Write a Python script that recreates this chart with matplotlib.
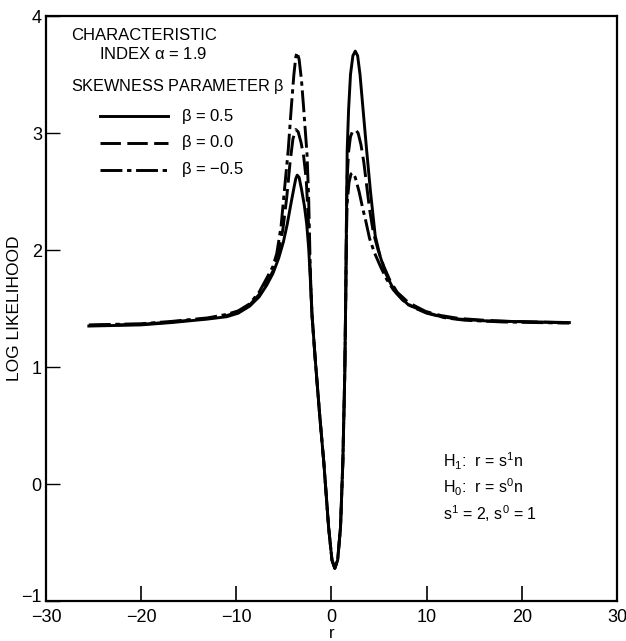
import matplotlib
matplotlib.use("Agg")
from matplotlib import pyplot as plt
from matplotlib.transforms import ScaledTranslation

plt.rcParams['font.family'] = ['Liberation Sans', 'DejaVu Sans']
plt.rcParams['mathtext.fontset'] = 'custom'
plt.rcParams['mathtext.rm'] = 'Liberation Sans'
plt.rcParams['mathtext.it'] = 'Liberation Sans:italic'
plt.rcParams['mathtext.default'] = 'regular'

# beta = 0.5 (solid)
x_pos = [-25.5, -20, -16.8, -13, -11, -9.8, -8.6, -7.6, -6.8, -6.15, -5.55, -5.05, -4.65, -4.25,
         -3.9, -3.75, -3.6, -3.4, -3.15, -2.85, -2.6, -2.4, -2.25, -2.05, -1.7, -1.25, -0.8,
         -0.3, 0.05, 0.35, 0.65, 0.95, 1.2, 1.4, 1.5, 1.58, 1.65, 1.8, 2.0, 2.25, 2.5, 2.75,
         3.0, 3.3, 3.7, 4.1, 4.6, 5.1, 5.7, 6.3, 6.85, 8.1, 9.9, 11.5, 13.4, 16, 18.6, 25]
y_pos = [1.35, 1.36, 1.38, 1.41, 1.43, 1.46, 1.52, 1.60, 1.70, 1.80, 1.93, 2.07, 2.22, 2.40,
         2.55, 2.61, 2.64, 2.62, 2.52, 2.38, 2.22, 2.02, 1.80, 1.45, 1.06, 0.60, 0.18,
         -0.37, -0.65, -0.72, -0.65, -0.37, 0.20, 0.95, 1.60, 2.30, 2.85, 3.20, 3.50, 3.66, 3.70, 3.66,
         3.50, 3.22, 2.85, 2.50, 2.12, 1.95, 1.80, 1.70, 1.63, 1.53, 1.47, 1.43, 1.41, 1.395, 1.39, 1.38]

# beta = 0.0 (dashed)
x_zero = [-25.5, -20, -16.8, -13, -11, -9.8, -8.6, -7.6, -6.8, -6.15, -5.65, -5.1, -4.7, -4.35,
          -4.05, -3.75, -3.5, -3.2, -2.92, -2.65, -2.4, -2.25, -2.05, -1.7, -1.25, -0.8,
          -0.3, 0.05, 0.35, 0.65, 0.95, 1.2, 1.4, 1.5, 1.58, 1.65, 1.8, 2.0, 2.25, 2.5, 2.8,
          3.1, 3.4, 3.7, 4.0, 4.4, 4.9, 5.5, 6.15, 6.9, 8.1, 9.9, 11.5, 13.4, 16, 18.6, 25]
y_zero = [1.355, 1.365, 1.385, 1.415, 1.44, 1.47, 1.53, 1.62, 1.72, 1.82, 1.95, 2.18, 2.45, 2.75,
          2.95, 3.03, 3.01, 2.92, 2.80, 2.60, 2.20, 1.85, 1.45, 1.06, 0.60, 0.18,
          -0.37, -0.65, -0.72, -0.65, -0.37, 0.20, 0.95, 1.60, 2.30, 2.62, 2.84, 2.97, 3.02, 3.03, 3.0,
          2.90, 2.75, 2.55, 2.35, 2.15, 2.0, 1.86, 1.74, 1.64, 1.55, 1.475, 1.44, 1.415, 1.40, 1.39, 1.378]

# beta = -0.5 (dash-dot)
x_neg = [-25.5, -20, -16.8, -13, -11, -9.8, -8.6, -7.6, -6.8, -6.15, -5.75, -5.3, -4.9, -4.55,
         -4.22, -3.95, -3.75, -3.62, -3.4, -3.15, -2.93, -2.75, -2.57, -2.4, -2.3, -2.22, -2.05,
         -1.7, -1.25, -0.8, -0.3, 0.05, 0.35, 0.65, 0.95, 1.2, 1.4, 1.5, 1.58, 1.65, 1.85, 2.05,
         2.23, 2.5, 2.9, 3.3, 3.6, 4.0, 4.5, 5.2, 5.8, 6.5, 7.5, 8.6, 10, 12, 14, 18, 25]
y_neg = [1.36, 1.37, 1.39, 1.42, 1.45, 1.48, 1.54, 1.64, 1.76, 1.86, 1.97, 2.20, 2.55, 2.85,
         3.22, 3.50, 3.65, 3.69, 3.63, 3.45, 3.22, 3.02, 2.82, 2.45, 2.10, 1.80, 1.45,
         1.06, 0.60, 0.18, -0.37, -0.65, -0.72, -0.65, -0.37, 0.20, 0.95, 1.60, 2.15, 2.40, 2.58, 2.65,
         2.66, 2.62, 2.50, 2.35, 2.25, 2.10, 1.98, 1.85, 1.75, 1.66, 1.57, 1.51, 1.46, 1.42, 1.40, 1.385, 1.375]

x_ticks = [-30, -20, -10, 0, 10, 20, 30]
y_ticks = [-1, 0, 1, 2, 3, 4]
labels = [r'$\beta$ = 0.5', r'$\beta$ = 0.0', r'$\beta$ = $-$0.5']

solid = '-'
dashed = (0, (7, 2.2))
dashdot = (0, (7.5, 1.6, 1.5, 1.6))

fig = plt.figure(figsize=(6.26, 6.41), dpi=100)
ax = fig.add_axes([0.0735, 0.0624, 0.912, 0.9126])

ax.plot(x_pos, y_pos, color='black', lw=2.1, linestyle=solid)
ax.plot(x_zero, y_zero, color='black', lw=2.1, linestyle=dashed)
ax.plot(x_neg, y_neg, color='black', lw=2.1, linestyle=dashdot)

ax.set_xlim(-30, 30)
ax.set_ylim(-1, 4)
ax.set_xticks(x_ticks)
ax.set_yticks(y_ticks)
ax.set_xticklabels(['\u221230', '\u221220', '\u221210', '0', '10', '20', '30'])
ax.set_yticklabels(['\u22121', '0', '1', '2', '3', '4'])
ax.tick_params(axis='x', direction='in', length=11, width=1.2, labelsize=13, pad=6)
ax.tick_params(axis='y', direction='in', length=10, width=1.0, labelsize=13, pad=3)
for s in ax.spines.values():
    s.set_linewidth(1.6)

# lift the -1 label off the x tick labels, as in the original
lab = ax.get_yticklabels()[0]
lab.set_transform(lab.get_transform() + ScaledTranslation(0, 4 / 72, fig.dpi_scale_trans))

ax.set_ylabel('LOG LIKELIHOOD', fontsize=12.5)
ax.yaxis.set_label_coords(-0.042, 0.5)
ax.set_xlabel('r', fontsize=12)
ax.xaxis.set_label_coords(0.5, -0.042)

# key
ax.text(0.0437, 0.9675, 'CHARACTERISTIC', transform=ax.transAxes, fontsize=12, va='center')
ax.text(0.0927, 0.935, r'INDEX $\alpha$ = 1.9', transform=ax.transAxes, fontsize=12, va='center')
ax.text(0.0437, 0.880, r'SKEWNESS PARAMETER $\beta$', transform=ax.transAxes, fontsize=11.7, va='center')
for ly, ls, lab in zip([0.829, 0.783, 0.737], [solid, dashed, dashdot], labels):
    ax.plot([0.0944, 0.2133], [ly, ly], transform=ax.transAxes, color='black', lw=2.1, linestyle=ls)
    ax.text(0.236, ly, lab, transform=ax.transAxes, fontsize=12, va='center')

ax.text(0.696, 0.239, r'H$_1$:  r = s$^1$n', transform=ax.transAxes, fontsize=11.5, va='center')
ax.text(0.696, 0.195, r'H$_0$:  r = s$^0$n', transform=ax.transAxes, fontsize=11.5, va='center')
ax.text(0.696, 0.149, r's$^1$ = 2, s$^0$ = 1', transform=ax.transAxes, fontsize=11.5, va='center')

plt.savefig('out.png', dpi=100)
